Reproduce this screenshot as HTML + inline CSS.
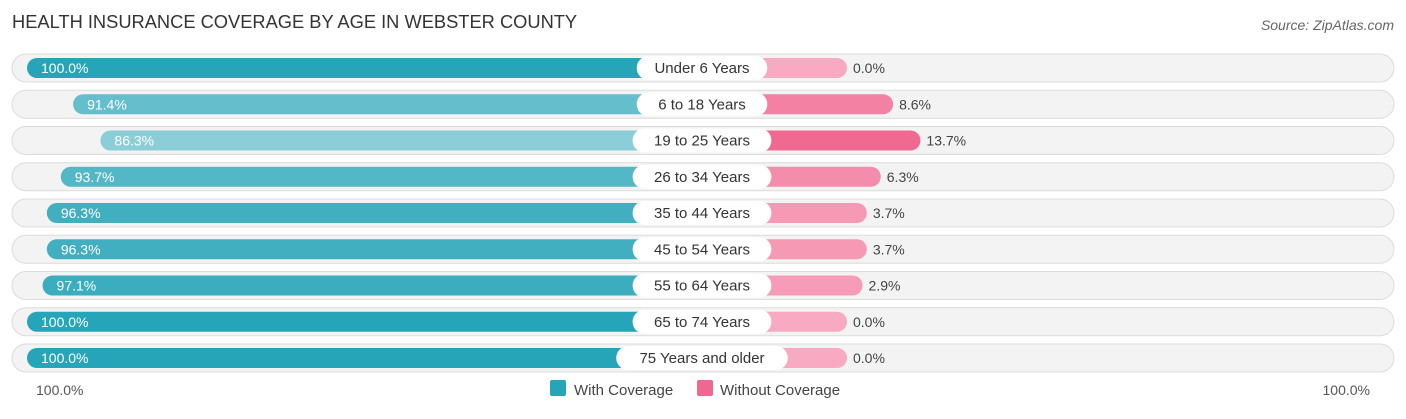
<!DOCTYPE html>
<html><head><meta charset="utf-8"><style>
body{margin:0;width:1406px;height:414px;background:#fff;font-family:"Liberation Sans",sans-serif;overflow:hidden}
</style></head><body>
<svg width="1406" height="414">
<text x="12" y="28" font-size="18.3" fill="#333">HEALTH INSURANCE COVERAGE BY AGE IN WEBSTER COUNTY</text>
<text x="1394" y="30" font-size="14" fill="#666" font-style="italic" text-anchor="end">Source: ZipAtlas.com</text>
<g id="rows"></g>
<text x="36" y="395" font-size="14" fill="#555">100.0%</text>
<text x="1370" y="395" font-size="14" fill="#555" text-anchor="end">100.0%</text>
<rect x="550" y="380" width="16" height="16" rx="2" fill="#26a4b8"/>
<text x="574" y="395" font-size="15" fill="#444">With Coverage</text>
<rect x="697" y="380" width="16" height="16" rx="2" fill="#f06890"/>
<text x="720" y="395" font-size="15" fill="#444">Without Coverage</text>
</svg>
<script>
const categories=["Under 6 Years","6 to 18 Years","19 to 25 Years","26 to 34 Years","35 to 44 Years","45 to 54 Years","55 to 64 Years","65 to 74 Years","75 Years and older"];
const withCov=[100.0,91.4,86.3,93.7,96.3,96.3,97.1,100.0,100.0];
const withoutCov=[0.0,8.6,13.7,6.3,3.7,3.7,2.9,0.0,0.0];
const NS="http://www.w3.org/2000/svg";
const g=document.getElementById('rows');
const cx=705,stub=142,k=5.36,y0=68,dy=36.25;
function mk(t,a){const e=document.createElementNS(NS,t);for(const n in a)e.setAttribute(n,a[n]);return e;}
function mix(c1,c2,t){return 'rgb('+c1.map((v,i)=>Math.round(v+(c2[i]-v)*t)).join(',')+')';}
categories.forEach((c,i)=>{
const y=y0+i*dy;
const tr=mk('rect',{x:12,y:y-14,width:1382,height:28,rx:14,fill:'#f3f3f3',stroke:'#dcdcdc'});


g.appendChild(tr);
const wb=stub+withCov[i]*k;
const tb=Math.min(1,Math.max(0,(100-withCov[i])/14));
const b=mk('rect',{x:cx-wb,y:y-10,width:wb,height:20,rx:10,fill:mix([38,164,184],[141,207,216],tb)});


g.appendChild(b);
const wp=stub+withoutCov[i]*k;
const tp=Math.min(1,withoutCov[i]/14);
const p=mk('rect',{x:cx,y:y-10,width:wp,height:20,rx:10,fill:mix([247,170,194],[240,104,144],tp)});


g.appendChild(p);
const lt=mk('text',{x:cx-wb+14,y:y+5,'font-size':14,fill:'#fff'});lt.textContent=withCov[i].toFixed(1)+'%';


g.appendChild(lt);
const rt=mk('text',{x:cx+wp+6,y:y+5,'font-size':14,fill:'#444'});rt.textContent=withoutCov[i].toFixed(1)+'%';


g.appendChild(rt);
const lw=c.length*8.2+24;
const pl=mk('rect',{x:cx-3-lw/2,y:y-12,width:lw,height:24,rx:12,fill:'#fff'});


g.appendChild(pl);
const ct=mk('text',{x:cx-3,y:y+5,'font-size':15,fill:'#333','text-anchor':'middle'});ct.textContent=c;


g.appendChild(ct);
});
</script>
</body></html>
